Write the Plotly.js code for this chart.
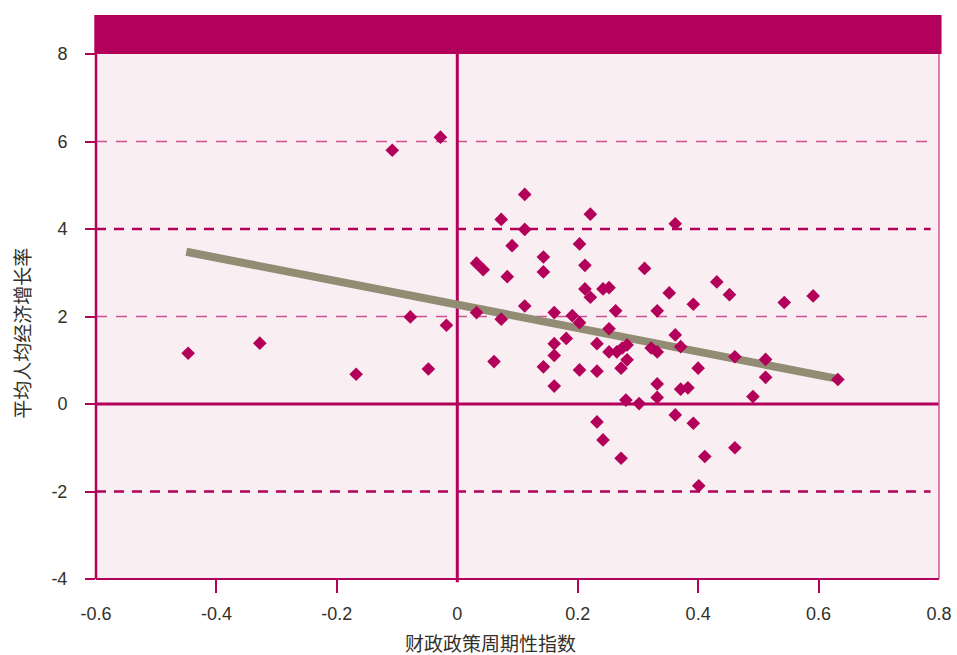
<!DOCTYPE html>
<html>
<head>
<meta charset="utf-8">
<script src="https://cdn.plot.ly/plotly-3.0.1.min.js"></script>
<style>html,body{margin:0;padding:0;background:#fff;}#chart{width:957px;height:655px;}</style>
</head>
<body>
<div id="chart"></div>
<script>
// 财政政策周期性指数 (x) vs 平均人均经济增长率 (y)
const cyclicality = [
  -0.447, -0.328, -0.168, -0.108, -0.028, -0.078, -0.048, -0.018,
  0.032, 0.043, 0.032, 0.061, 0.073, 0.073, 0.083, 0.091, 0.112, 0.112, 0.112,
  0.143, 0.143, 0.143, 0.161, 0.161, 0.161, 0.161, 0.181, 0.191,
  0.203, 0.203, 0.203, 0.212, 0.212, 0.221, 0.221, 0.232, 0.232, 0.232,
  0.242, 0.242, 0.252, 0.252, 0.252, 0.263, 0.265, 0.272, 0.272, 0.274,
  0.282, 0.282, 0.280, 0.302, 0.311, 0.322, 0.332, 0.332, 0.332, 0.332,
  0.352, 0.362, 0.362, 0.362, 0.371, 0.371, 0.383, 0.392, 0.392, 0.400,
  0.401, 0.411, 0.431, 0.452, 0.461, 0.461, 0.491, 0.512, 0.512, 0.543,
  0.591, 0.632
];
const growth = [
  1.16, 1.39, 0.68, 5.80, 6.10, 1.99, 0.80, 1.80,
  3.22, 3.07, 2.09, 0.97, 4.22, 1.94, 2.91, 3.62, 4.79, 3.99, 2.24,
  3.36, 3.02, 0.85, 2.09, 1.38, 1.11, 0.41, 1.50, 2.02,
  3.66, 1.86, 0.78, 3.17, 2.63, 4.34, 2.44, 1.38, 0.75, -0.41,
  2.63, -0.82, 2.66, 1.72, 1.19, 2.13, 1.19, 0.82, -1.24, 1.28,
  1.35, 1.01, 0.09, 0.01, 3.10, 1.28, 2.13, 1.19, 0.46, 0.15,
  2.54, 4.12, 1.58, -0.25, 1.31, 0.34, 0.37, 2.28, -0.44, 0.82,
  -1.87, -1.20, 2.79, 2.50, 1.08, -1.00, 0.17, 1.02, 0.61, 2.32,
  2.47, 0.56
];
const trendX = [-0.45, 0.63];
const trendY = [3.48, 0.58];

const xTickVals = [-0.6, -0.4, -0.2, 0, 0.2, 0.4, 0.6, 0.8];
const xTickText = ['-0.6', '-0.4', '-0.2', '0', '0.2', '0.4', '0.6', '0.8'];
const xInnerTicks = [-0.4, -0.2, 0.2, 0.4, 0.6];
const yTickVals = [-4, -2, 0, 2, 4, 6, 8];
const yTickText = ['-4', '-2', '0', '2', '4', '6', '8'];
const thickDashY = [4, -2];
const thinDashY = [6, 2];

const xTitle = '财政政策周期性指数';
const yTitle = '平均人均经济增长率';

const MAG = '#b3005a';
const MAG_LIGHT = '#cf5296';
const TXT = '#333028';

const shapes = [];
// header band above plot
shapes.push({type: 'rect', xref: 'paper', yref: 'paper', x0: -0.002, x1: 1.003, y0: 1.0, y1: 1.0745,
  fillcolor: MAG, line: {width: 0}, layer: 'above'});
thinDashY.forEach(v => shapes.push({type: 'line', xref: 'paper', yref: 'y', x0: 0, x1: 0.99, y0: v, y1: v,
  line: {color: MAG_LIGHT, width: 1.5, dash: '11px,9px'}, layer: 'below'}));
thickDashY.forEach(v => shapes.push({type: 'line', xref: 'paper', yref: 'y', x0: 0, x1: 0.99, y0: v, y1: v,
  line: {color: MAG, width: 2.5, dash: '10px,8px'}, layer: 'below'}));
// zero lines
shapes.push({type: 'line', xref: 'x', yref: 'paper', x0: 0, x1: 0, y0: -0.006, y1: 1,
  line: {color: MAG, width: 3}, layer: 'below'});
shapes.push({type: 'line', xref: 'paper', yref: 'y', x0: 0, x1: 1, y0: 0, y1: 0,
  line: {color: MAG, width: 3}, layer: 'below'});
// borders
shapes.push({type: 'line', xref: 'paper', yref: 'paper', x0: 0, x1: 0, y0: 0, y1: 1, line: {color: MAG, width: 2.5}});
shapes.push({type: 'line', xref: 'paper', yref: 'paper', x0: 0, x1: 1, y0: 0, y1: 0, line: {color: MAG, width: 2}});
shapes.push({type: 'line', xref: 'paper', yref: 'paper', x0: 1, x1: 1, y0: 0, y1: 1, line: {color: MAG_LIGHT, width: 1.5}});

const traces = [
  {x: trendX, y: trendY, type: 'scatter', mode: 'lines', line: {color: '#928c74', width: 8}, hoverinfo: 'skip', showlegend: false},
  {x: cyclicality, y: growth, type: 'scatter', mode: 'markers',
   marker: {symbol: 'diamond', size: 10.5, color: MAG, line: {width: 0}}, showlegend: false}
];

const titleFont = {family: '"Noto Sans CJK SC", sans-serif', size: 19, color: TXT};

const layout = {
  width: 957, height: 655,
  margin: {l: 96, r: 18, t: 54, b: 76},
  paper_bgcolor: '#ffffff',
  plot_bgcolor: '#f9eef1',
  showlegend: false,
  font: {family: '"Liberation Sans", Arial, sans-serif', size: 18, color: TXT},
  xaxis: {
    range: [-0.6, 0.8], tickvals: xTickVals, ticktext: xTickText,
    ticks: '', showgrid: false, zeroline: false, showline: false,
    ticklabelstandoff: 22,
    minor: {tickvals: xInnerTicks, ticks: 'outside', ticklen: 13, tickwidth: 2, tickcolor: MAG, showgrid: false},
    tickfont: {size: 18, color: TXT},
    automargin: false
  },
  yaxis: {
    range: [-4, 8], tickvals: yTickVals, ticktext: yTickText,
    ticks: 'outside', ticklen: 10, tickwidth: 2, tickcolor: MAG,
    showgrid: false, zeroline: false, showline: false,
    ticklabelstandoff: 14,
    tickfont: {size: 18, color: TXT},
    automargin: false
  },
  annotations: [
    {text: xTitle, xref: 'paper', yref: 'paper', x: 0.468, y: -0.12, xanchor: 'center', yanchor: 'middle',
     showarrow: false, font: titleFont},
    {text: yTitle, xref: 'paper', yref: 'paper', x: -0.088, y: 0.4686, xanchor: 'center', yanchor: 'middle',
     textangle: -90, showarrow: false, font: titleFont}
  ],
  shapes: shapes
};

Plotly.newPlot('chart', traces, layout, {displayModeBar: false, staticPlot: true});
</script>
</body>
</html>
